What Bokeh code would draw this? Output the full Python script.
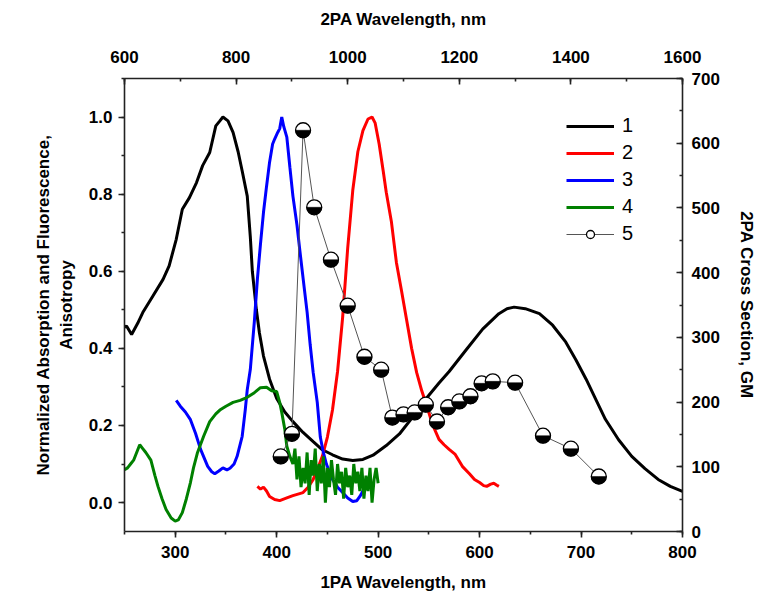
import math
from bokeh.plotting import figure
from bokeh.models import (Range1d, LinearAxis, SingleIntervalTicker,
                          PrintfTickFormatter, Legend, LegendItem)
from bokeh.embed import file_html
from bokeh.resources import INLINE

# ---- Data ----
# 1: absorption (1PA wavelength, normalized)
abs_wl = [250, 252, 257, 263, 268, 278, 288, 294, 301, 307, 314, 321, 327, 334, 340,
          344, 347, 352, 357, 362, 366, 371, 374, 376, 380, 383, 387, 393, 400, 408,
          416, 426, 436, 445, 455, 465, 475, 485, 495, 508, 521, 535, 548, 560, 570,
          587, 603, 619, 627, 634, 645, 659, 672, 685, 695, 705, 715, 724, 737, 750,
          763, 776, 788, 800]
abs_val = [0.455, 0.458, 0.436, 0.465, 0.493, 0.536, 0.579, 0.614, 0.683, 0.761, 0.791,
           0.83, 0.874, 0.908, 0.977, 0.99, 1.0, 0.99, 0.96, 0.91, 0.86, 0.795, 0.69,
           0.60, 0.50, 0.44, 0.38, 0.32, 0.27, 0.235, 0.21, 0.182, 0.158, 0.137, 0.124,
           0.113, 0.109, 0.112, 0.123, 0.148, 0.178, 0.225, 0.272, 0.31, 0.34, 0.397,
           0.45, 0.49, 0.503, 0.507, 0.503, 0.49, 0.46, 0.416, 0.37, 0.32, 0.265, 0.216,
           0.163, 0.12, 0.088, 0.06, 0.042, 0.029]

# 2: fluorescence
fl_wl = [381, 384, 387, 390, 393, 398, 403, 410, 416, 421, 426, 431, 436, 440, 445,
         450, 455, 460, 465, 470, 475, 480, 485, 490, 494, 497, 501, 505, 508, 513,
         518, 523, 528, 533, 538, 543, 548, 554, 560, 565, 570, 576, 583, 590, 595,
         600, 604, 607, 611, 614, 617, 619]
fl_val = [0.042, 0.035, 0.04, 0.03, 0.016, 0.008, 0.005, 0.012, 0.018, 0.022, 0.026,
          0.04, 0.06, 0.085, 0.12, 0.17, 0.24, 0.34, 0.48, 0.66, 0.81, 0.91, 0.965,
          0.995, 1.0, 0.985, 0.93, 0.86, 0.805, 0.73, 0.623, 0.55, 0.475, 0.40, 0.337,
          0.29, 0.25, 0.20, 0.164, 0.15, 0.138, 0.125, 0.094, 0.075, 0.06, 0.052,
          0.044, 0.042, 0.048, 0.05, 0.045, 0.042]

# 3: excitation
ex_wl = [301, 305, 310, 315, 320, 325, 332, 336, 339, 343, 347, 351, 354, 358, 361,
         366, 369, 371, 374, 378, 381, 384, 387, 390, 393, 396, 398, 401, 403, 405,
         407, 410, 413, 416, 420, 423, 427, 430, 433, 436, 440, 443, 446, 449, 452,
         455, 460, 465, 470, 475, 479, 482, 485, 487]
ex_val = [0.265, 0.25, 0.235, 0.215, 0.18, 0.138, 0.094, 0.08, 0.075, 0.082, 0.09,
          0.085, 0.089, 0.10, 0.12, 0.172, 0.24, 0.293, 0.345, 0.47, 0.58, 0.67,
          0.753, 0.82, 0.883, 0.93, 0.943, 0.96, 0.97, 1.0, 0.975, 0.948, 0.87, 0.795,
          0.72, 0.65, 0.56, 0.494, 0.41, 0.337, 0.26, 0.17, 0.13, 0.1, 0.08, 0.06,
          0.04, 0.026, 0.012, 0.003, 0.005, 0.016, 0.03, 0.042]

# 4: anisotropy
an_wl = [250, 253, 256, 259, 262, 265, 268, 271, 276, 280, 283, 287, 291, 296, 300,
         303, 307, 311, 315, 318, 322, 328, 334, 340, 344, 350, 357, 364, 371, 378,
         384, 390, 395, 400, 403, 405, 408, 410, 413,
         416, 418, 420, 422, 424, 426, 428, 430, 432, 434, 436, 438, 440, 442, 444,
         446, 448, 450, 452, 454, 456, 458, 460, 462, 464, 466, 468, 470, 472, 474,
         476, 478, 480, 482, 484, 486, 488, 490, 492, 494, 496, 498, 500]
an_val = [0.085, 0.09, 0.10, 0.11, 0.13, 0.15, 0.14, 0.13, 0.11, 0.07, 0.042, 0.01,
          -0.018, -0.04, -0.048, -0.045, -0.026, 0.01, 0.052, 0.09, 0.13, 0.172, 0.21,
          0.23, 0.24, 0.25, 0.26, 0.265, 0.273, 0.285, 0.298, 0.299, 0.29, 0.288,
          0.26, 0.234, 0.19, 0.146, 0.12,
          0.10, 0.14, 0.06, 0.12, 0.04, 0.09, 0.05, 0.13, 0.02, 0.11, 0.07, 0.14, 0.03,
          0.10, 0.05, 0.12, 0.00, 0.09, 0.04, 0.11, 0.06, 0.02, 0.10, 0.05, 0.08, 0.01,
          0.09, 0.04, 0.07, 0.02, 0.10, 0.05, 0.08, 0.03, 0.09, 0.01, 0.07, 0.03, 0.09,
          0.00, 0.06, 0.09, 0.05]

# 5: 2PA cross section (2PA wavelength, GM)
tpa_wl = [880, 900, 920, 940, 970, 1000, 1030, 1060, 1080, 1100, 1120, 1140, 1160,
          1180, 1200, 1220, 1240, 1260, 1300, 1350, 1400, 1450]
tpa_gm = [116, 151, 620, 501, 420, 349, 270, 250, 176, 181, 184, 196, 170, 192, 201,
          209, 229, 232, 230, 148, 128, 85]

legend_labels = ["1", "2", "3", "4", "5"]

FONT = "Liberation Sans"

p = figure(frame_width=558, frame_height=453,
           x_range=Range1d(250, 800), y_range=Range1d(-0.075, 1.1),
           output_backend="svg", toolbar_location=None,
           min_border_left=124, min_border_right=80, min_border_top=78,
           min_border_bottom=64)
p.extra_x_ranges = {"top": Range1d(600, 1600)}
p.extra_y_ranges = {"right": Range1d(0, 700)}
p.xgrid.visible = False
p.ygrid.visible = False
p.outline_line_color = None
p.background_fill_color = "white"
p.border_fill_color = "white"

bottom_axis = p.below[0]
left_axis = p.left[0]

top_axis = LinearAxis(x_range_name="top", axis_label="2PA Wavelength, nm")
right_axis = LinearAxis(y_range_name="right", axis_label="2PA Cross Section, GM")
p.add_layout(top_axis, "above")
p.add_layout(right_axis, "right")

bottom_axis.axis_label = "1PA Wavelength, nm"
left_axis.axis_label = "Normalized Absorption and Fluorescence,\nAnisotropy"

bottom_axis.ticker = SingleIntervalTicker(interval=100, num_minor_ticks=2)
left_axis.ticker = SingleIntervalTicker(interval=0.2, num_minor_ticks=2)
left_axis.formatter = PrintfTickFormatter(format="%.1f")
top_axis.ticker = SingleIntervalTicker(interval=200, num_minor_ticks=2)
right_axis.ticker = SingleIntervalTicker(interval=100, num_minor_ticks=2)

for ax in [bottom_axis, left_axis, top_axis, right_axis]:
    ax.axis_line_width = 1.6
    ax.axis_line_color = "#222222"
    ax.major_tick_line_width = 1.6
    ax.minor_tick_line_width = 1.6
    ax.major_tick_line_color = "#222222"
    ax.minor_tick_line_color = "#222222"
    ax.major_label_text_font = FONT
    ax.major_label_text_font_style = "bold"
    ax.major_label_text_font_size = "17px"
    ax.major_label_text_color = "black"
    ax.axis_label_text_font = FONT
    ax.axis_label_text_font_style = "bold"
    ax.axis_label_text_font_size = "17px"
    ax.axis_label_text_color = "black"

for ax in [bottom_axis, left_axis]:
    ax.major_tick_out = 6
    ax.major_tick_in = 0
    ax.minor_tick_out = 3
    ax.minor_tick_in = 0
    ax.major_label_standoff = 6

for ax in [top_axis, right_axis]:
    ax.major_tick_out = 0
    ax.major_tick_in = 6
    ax.minor_tick_out = 0
    ax.minor_tick_in = 3
    ax.major_label_standoff = 9

bottom_axis.major_label_standoff = 8
top_axis.major_label_standoff = 16
bottom_axis.axis_label_standoff = 12
left_axis.axis_label_standoff = 10
top_axis.axis_label_standoff = 19
right_axis.axis_label_standoff = 14

r1 = p.line(abs_wl, abs_val, line_color="black", line_width=3)
r2 = p.line(fl_wl, fl_val, line_color="#ff0000", line_width=3)
r3 = p.line(ex_wl, ex_val, line_color="#0000ff", line_width=3)
r4 = p.line(an_wl, an_val, line_color="#008000", line_width=3)

r5l = p.line(tpa_wl, tpa_gm, x_range_name="top", y_range_name="right",
             line_color="#555555", line_width=1)
r5c = p.scatter(tpa_wl, tpa_gm, x_range_name="top", y_range_name="right",
                marker="circle", size=15, fill_color="white",
                line_color="black", line_width=1.3)
r5w = p.wedge(tpa_wl, tpa_gm, x_range_name="top", y_range_name="right",
              radius=7.5, radius_units="screen", start_angle=math.pi,
              end_angle=2 * math.pi, fill_color="black", line_color="black",
              line_width=0.5)

legend = Legend(items=[
    LegendItem(label=legend_labels[0], renderers=[r1]),
    LegendItem(label=legend_labels[1], renderers=[r2]),
    LegendItem(label=legend_labels[2], renderers=[r3]),
    LegendItem(label=legend_labels[3], renderers=[r4]),
    LegendItem(label=legend_labels[4], renderers=[r5l, r5c]),
], location=(442, 286))
legend.border_line_color = None
legend.background_fill_alpha = 0
legend.label_text_font = FONT
legend.label_text_font_size = "20px"
legend.label_text_color = "black"
legend.glyph_width = 48
legend.glyph_height = 20
legend.label_height = 20
legend.spacing = 4
legend.padding = 0
legend.margin = 0
legend.label_standoff = 8
p.add_layout(legend)

open("out.html", "w").write(file_html(p, INLINE))
